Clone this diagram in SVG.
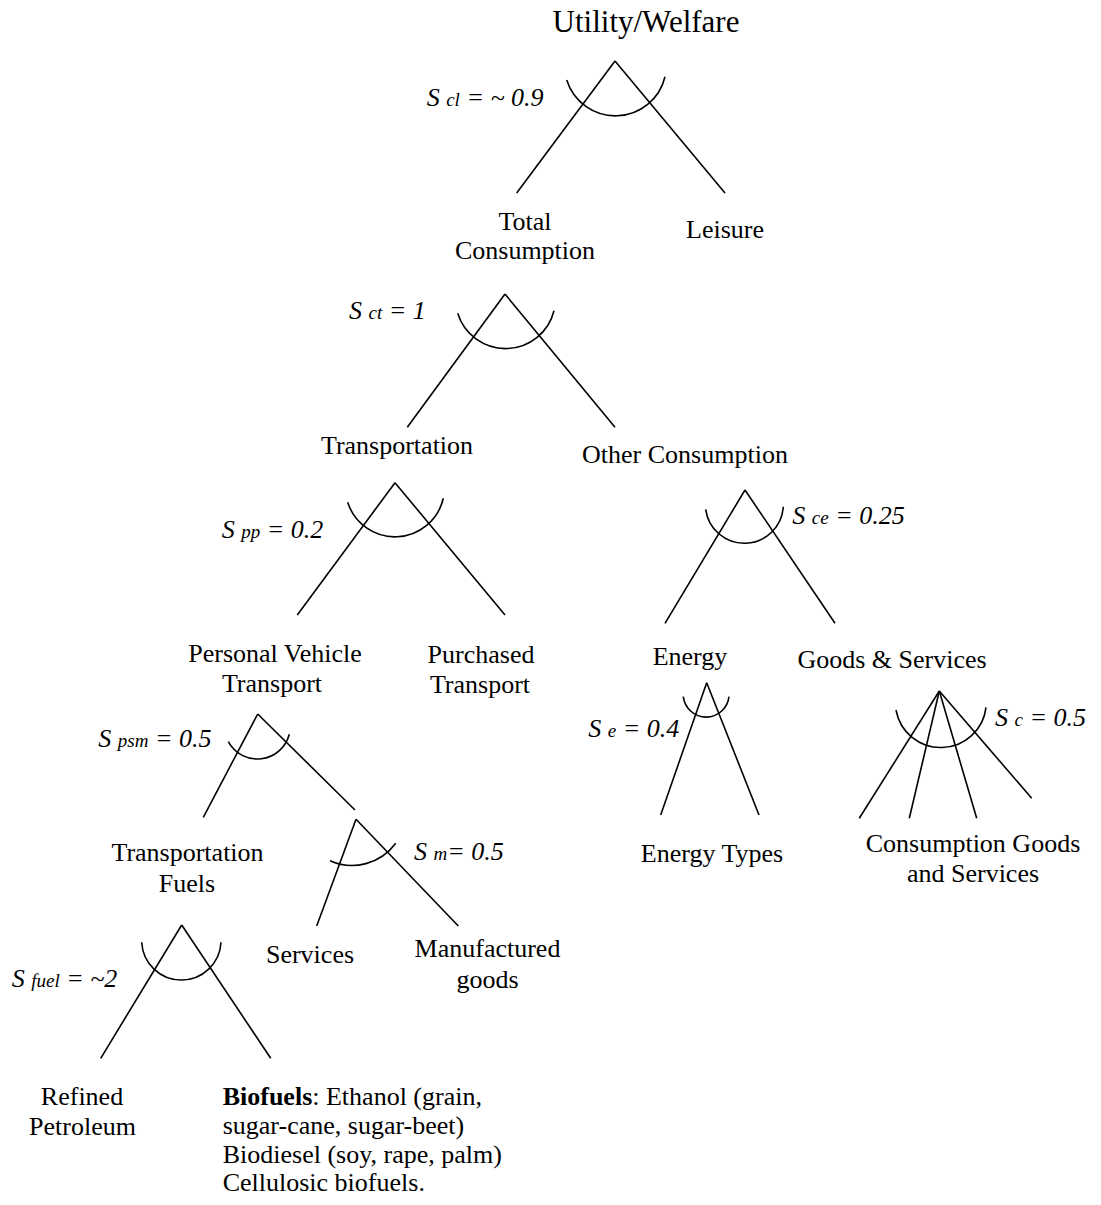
<svg xmlns="http://www.w3.org/2000/svg" width="1101" height="1205" viewBox="0 0 1101 1205">
<style>
text{font-family:"Liberation Serif","Times New Roman",serif;fill:#000}
.n{font-size:26px;text-anchor:middle}
.t{font-size:31px;text-anchor:middle}
.s{font-size:26px;font-style:italic}
.sub{font-size:19px}
.c line{stroke:#000;stroke-width:1.6;fill:none}
.a{stroke:#000;stroke-width:1.6;fill:none}
</style>
<rect width="1101" height="1205" fill="#fff"/>
<g id="connectors" class="c">
<line x1="615" y1="61" x2="516.7" y2="193"/>
<line x1="615" y1="61" x2="725" y2="193"/>
<line x1="505" y1="294" x2="407.3" y2="427.3"/>
<line x1="505" y1="294" x2="615" y2="427.3"/>
<line x1="395" y1="482.7" x2="297.3" y2="615"/>
<line x1="395" y1="482.7" x2="505" y2="615"/>
<line x1="745" y1="490" x2="665" y2="623.3"/>
<line x1="745" y1="490" x2="835" y2="623.3"/>
<line x1="706.7" y1="682.7" x2="660.7" y2="815"/>
<line x1="706.7" y1="682.7" x2="759" y2="815"/>
<line x1="939.3" y1="691" x2="859.3" y2="818.3"/>
<line x1="939.3" y1="691" x2="909.3" y2="818.3"/>
<line x1="939.3" y1="691" x2="976.7" y2="818.3"/>
<line x1="939.3" y1="691" x2="1031.7" y2="798.3"/>
<line x1="257.7" y1="714" x2="203.3" y2="817.3"/>
<line x1="257.7" y1="714" x2="355" y2="810"/>
<line x1="356" y1="819.3" x2="316.7" y2="926"/>
<line x1="356" y1="819.3" x2="458.3" y2="926"/>
<line x1="181.7" y1="925" x2="100.7" y2="1058.3"/>
<line x1="181.7" y1="925" x2="270.7" y2="1058.3"/>
</g>
<g id="nest-cl"><path class="a" d="M566.7,80 A51,51 0 0 0 665,76.7"/><text class="s" x="426.7" y="106">S <tspan class="sub">cl</tspan> = ~ 0.9</text></g>
<g id="nest-ct"><path class="a" d="M457.7,313.3 A50,50 0 0 0 554,310.7"/><text class="s" x="349" y="319">S <tspan class="sub">ct</tspan> = 1</text></g>
<g id="nest-pp"><path class="a" d="M347.7,502.3 A49.6,49.6 0 0 0 443.3,498.3"/><text class="s" x="221.7" y="538">S <tspan class="sub">pp</tspan> = 0.2</text></g>
<g id="nest-ce"><path class="a" d="M705.7,509.3 A39,39 0 0 0 783.3,506.7"/><text class="s" x="792.3" y="524">S <tspan class="sub">ce</tspan> = 0.25</text></g>
<g id="nest-e"><path class="a" d="M683.3,696.7 A23,23 0 0 0 729,696.7"/><text class="s" x="588.3" y="737">S <tspan class="sub">e</tspan> = 0.4</text></g>
<g id="nest-c"><path class="a" d="M896,710 A45.5,45.5 0 0 0 986,707.3"/><text class="s" x="995" y="726">S <tspan class="sub">c</tspan> = 0.5</text></g>
<g id="nest-psm"><path class="a" d="M228.3,741.7 A33,33 0 0 0 289.3,734.3"/><text class="s" x="98.3" y="747">S <tspan class="sub">psm</tspan> = 0.5</text></g>
<g id="nest-m"><path class="a" d="M330,860.7 A54,54 0 0 0 395.7,843.3"/><text class="s" x="414" y="860">S <tspan class="sub">m</tspan>= 0.5</text></g>
<g id="nest-fuel"><path class="a" d="M141.7,942.3 A39.7,39.7 0 0 0 221,942.3"/><text class="s" x="11.7" y="987">S <tspan class="sub">fuel</tspan> = ~2</text></g>
<g id="utility"><text class="t" x="646" y="32">Utility/Welfare</text></g>
<g id="total-consumption"><text class="n" x="525" y="230">Total</text><text class="n" x="525" y="259">Consumption</text></g>
<g id="leisure"><text class="n" x="725" y="238">Leisure</text></g>
<g id="transportation"><text class="n" x="397" y="454">Transportation</text></g>
<g id="other-consumption"><text class="n" x="685" y="463">Other Consumption</text></g>
<g id="personal-vehicle"><text class="n" x="275" y="662">Personal Vehicle</text><text class="n" x="272" y="692">Transport</text></g>
<g id="purchased-transport"><text class="n" x="481" y="663">Purchased</text><text class="n" x="480" y="693">Transport</text></g>
<g id="energy"><text class="n" x="690" y="665">Energy</text></g>
<g id="goods-services"><text class="n" x="892" y="668">Goods &amp; Services</text></g>
<g id="energy-types"><text class="n" x="712" y="862">Energy Types</text></g>
<g id="consumption-goods"><text class="n" x="973" y="852">Consumption Goods</text><text class="n" x="973" y="882">and Services</text></g>
<g id="transportation-fuels"><text class="n" x="187.5" y="861">Transportation</text><text class="n" x="187" y="892">Fuels</text></g>
<g id="services"><text class="n" x="310" y="963">Services</text></g>
<g id="manufactured"><text class="n" x="487.5" y="957">Manufactured</text><text class="n" x="487.5" y="988">goods</text></g>
<g id="refined-petroleum"><text class="n" x="82" y="1105">Refined</text><text class="n" x="82.5" y="1135">Petroleum</text></g>
<g id="biofuels"><text style="font-size:26px" x="222.7" y="1105"><tspan font-weight="bold">Biofuels</tspan>: Ethanol (grain,</text><text style="font-size:26px" x="222.7" y="1134">sugar-cane, sugar-beet)</text><text style="font-size:26px" x="222.7" y="1163">Biodiesel (soy, rape, palm)</text><text style="font-size:26px" x="222.7" y="1191">Cellulosic biofuels.</text></g>
</svg>
